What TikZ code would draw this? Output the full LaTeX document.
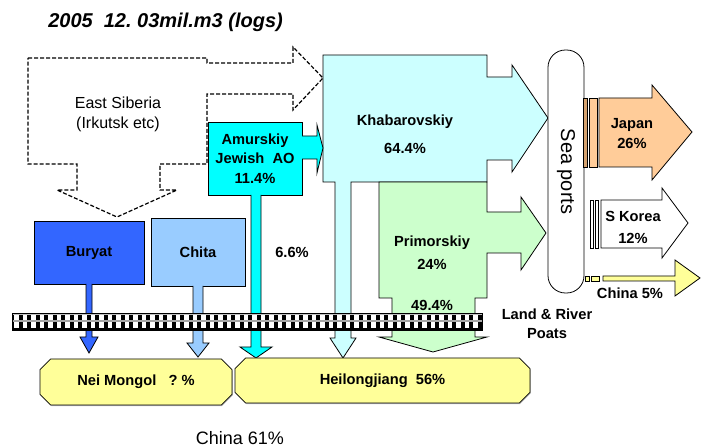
\documentclass[tikz,border=0pt]{standalone}
\usepackage{fontspec}
\setmainfont{Liberation Sans}
\usepackage{tikz}
\usetikzlibrary{positioning, shapes.misc, shadows}
\definecolor{buryatblue}{RGB}{51,102,255}
\definecolor{chitablue}{RGB}{153,204,255}
\definecolor{amurcyan}{RGB}{0,255,255}
\definecolor{khabcyan}{RGB}{204,255,255}
\definecolor{primgreen}{RGB}{204,255,204}
\definecolor{japanorange}{RGB}{255,204,153}
\definecolor{japanbar}{RGB}{214,163,112}
\definecolor{chinayellow}{RGB}{255,255,153}

\begin{document}
\begin{tikzpicture}[x=0.75pt, y=-0.75pt,
    box/.style={draw, line width=0.6pt, inner sep=0pt, align=center,
                font=\bfseries\fontsize{11}{14.5}\selectfont},
    blk/.style={draw, line width=0.6pt},
    lbl/.style={inner sep=0pt, align=center,
                font=\bfseries\fontsize{11}{14.5}\selectfont},
    dashblk/.style={draw, line width=0.9pt, dash pattern=on 3pt off 1.5pt},
    dest/.style={chamfered rectangle, chamfered rectangle xsep=4pt,
                 chamfered rectangle ysep=4pt, draw, line width=0.6pt,
                 fill=chinayellow, inner sep=0pt,
                 font=\bfseries\fontsize{11}{14.5}\selectfont,
                 drop shadow={shadow xshift=0.6pt, shadow yshift=-0.8pt, opacity=0.5}}
]
\useasboundingbox (0,0) rectangle (707,448);
\node[anchor=west, inner sep=0pt, font=\bfseries\itshape\fontsize{15}{17}\selectfont]
  (title) at (48,22) {2005\ \ 12.\ 03mil.m3 (logs)};
% ============== East Siberia (dashed) ==================
\draw[dashblk] (28,58) -- (207,58) -- (207,63) -- (293,63) -- (293,47) -- (323,78)
  -- (293,110) -- (293,94) -- (207,94) -- (207,164) -- (160,164) -- (160,190)
  -- (177,190) -- (117,217) -- (57,190) -- (77,190) -- (77,164) -- (28,164) -- cycle;
\node[inner sep=0pt, align=center, font=\fontsize{12}{15}\selectfont]
  (esib) at (118,114) {East Siberia\\(Irkutsk etc)};
% ============== Khabarovskiy and Primorskiy ==================
\draw[blk, fill=khabcyan] (323,55) -- (487,55) -- (487,77) -- (512,77) -- (512,65)
  -- (548,118) -- (512,172) -- (512,160) -- (487,160) -- (487,182) -- (351,182)
  -- (351,338) -- (356,338) -- (343,358) -- (330,338) -- (335,338) -- (335,182)
  -- (323,182) -- cycle;
\node[lbl] (khab) at (405,134) {Khabarovskiy\\[6.5pt]64.4\%};
\draw[blk, fill=primgreen] (379,182) -- (487,182) -- (487,212) -- (521,212) -- (521,197)
  -- (546,233) -- (521,270) -- (521,253) -- (487,253) -- (487,298) -- (475,298)
  -- (475,337) -- (487,337) -- (433,352) -- (379,337) -- (392,337) -- (392,298)
  -- (379,298) -- cycle;
\node[lbl] (prim) at (432,252.5) {Primorskiy\\[2.5pt]24\%};
\node[lbl] (primdown) at (432,305) {49.4\%};
% ============== Amurskiy ==================
\node[box, fill=amurcyan, minimum width=70.5pt, minimum height=54.75pt]
  (amur) at (255,158.5) {Amurskiy\\Jewish\ \ AO\\11.4\%};
\draw[blk, fill=amurcyan] (302,136) -- (317,136) -- (317,125) -- (323,148)
  -- (317,173) -- (317,159) -- (302,159);
\draw[blk, fill=amurcyan] (251,195) -- (251,347) -- (240,347) -- (256,358)
  -- (272,347) -- (261,347) -- (261,195);
\node[lbl] (amurpct) at (292,252) {6.6\%};
% ============== Buryat and Chita ==================
\node[box, fill=buryatblue, minimum width=82.5pt, minimum height=47.25pt]
  (buryat) at (89,252.5) {Buryat};
\draw[blk, fill=buryatblue] (86,284) -- (86,337) -- (80,337) -- (89,353)
  -- (98,337) -- (92,337) -- (92,284);
\node[box, fill=chitablue, minimum width=70.5pt, minimum height=51pt]
  (chita) at (198,252) {Chita};
\draw[blk, fill=chitablue] (193,286) -- (193,343) -- (187,343) -- (198,357)
  -- (209,343) -- (203,343) -- (203,286);
% ============== Sea ports and exports ==================
\node[draw, line width=0.6pt, fill=white, rounded corners=13pt, rotate=-90,
      minimum width=182.25pt, minimum height=27pt, font=\fontsize{15}{17}\selectfont]
  (sea) at (566,171.5) {Sea ports};
\draw[blk, fill=japanbar] (583,98) rectangle (587,167);
\draw[blk, fill=japanorange] (589,98) rectangle (597,167);
\draw[blk, fill=japanorange] (599,98) -- (652,98) -- (652,85) -- (692,132)
  -- (652,180) -- (652,167) -- (599,167) -- cycle;
\node[lbl] (japan) at (632,133.5) {Japan\\26\%};
\draw[blk, fill=white] (590,200) rectangle (593,248);
\draw[blk, fill=white] (595,200) rectangle (598,248);
\draw[blk, fill=white] (601,200) -- (662,200) -- (662,188) -- (688,223)
  -- (662,258) -- (662,248) -- (601,248) -- cycle;
\node[lbl] (korea) at (633,227) {S Korea\\[2pt]12\%};
\draw[blk, fill=chinayellow] (585,276) rectangle (589,281);
\draw[blk, fill=chinayellow] (591,276) rectangle (599,281);
\draw[blk, fill=chinayellow] (603,276) -- (675,276) -- (675,260) -- (700,278)
  -- (675,296) -- (675,281) -- (603,281) -- cycle;
\node[lbl] (china5) at (630,293) {China 5\%};
\node[lbl] (land) at (547,323.5) {Land \& River\\Poats};
% ============== border (checkered bar) ==================
\fill[black] (12,313) rectangle (482,330);
\foreach \i in {0,...,54}
  \fill[white] ({14+8.5*\i},315) rectangle ({18.5+8.5*\i},328);
\fill[gray!70] (12,320) rectangle (482,322.5);
\fill[gray!50] (12,313.5) rectangle (482,315);
\draw[line width=0.6pt] (12,313) rectangle (482,330);
% ============== China ==================
\node[dest, minimum width=144pt, minimum height=34.5pt]
  (neimongol) at (136,382) {Nei Mongol\ \ \ ?\ \%};
\node[dest, minimum width=221.25pt, minimum height=33.75pt]
  (heilong) at (382.5,380.5) {Heilongjiang\ \ 56\%};
\node[inner sep=0pt, font=\fontsize{13.5}{16}\selectfont] (china) at (240,438) {China 61\%};
\end{tikzpicture}
\end{document}
